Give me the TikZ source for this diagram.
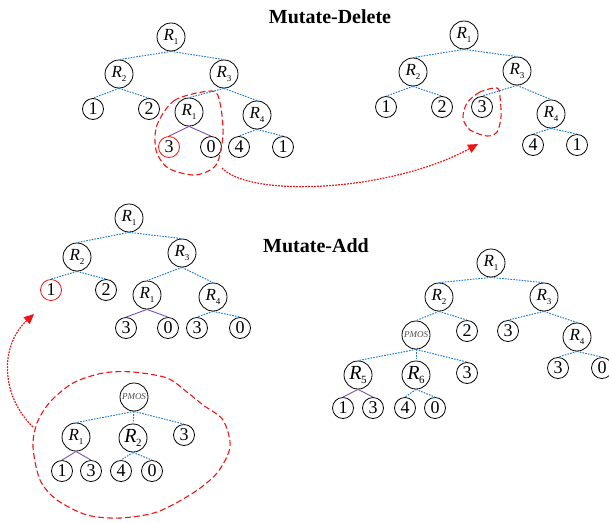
\documentclass[tikz,border=0pt]{standalone}
\usepackage{fontspec}
\setmainfont{Liberation Serif}
\usetikzlibrary{arrows.meta}
\definecolor{edgeblue}{RGB}{35,125,205}
\definecolor{edgepurple}{RGB}{125,80,180}
\definecolor{markred}{RGB}{240,20,20}
% R with an upright subscript index
\newcommand\Rsub[1]{\textit{R}\kern-0.3pt\raisebox{-3.5pt}{\fontsize{9}{9}\selectfont #1}}
\newcommand\Rbig[1]{\textit{R}\kern-0.3pt\raisebox{-4pt}{\fontsize{11}{11}\selectfont #1}}
\begin{document}
\begin{tikzpicture}[x=1pt, y=-1pt,
  rnode/.style={circle, draw, line width=0.8pt, minimum size=28pt, inner sep=0pt,
                font=\fontsize{17}{17}\selectfont},
  rbig/.style={rnode, font=\fontsize{20}{20}\selectfont},
  leaf/.style={circle, draw, line width=0.8pt, minimum size=21pt, inner sep=0pt,
               font=\fontsize{18}{18}\selectfont},
  redleaf/.style={leaf, draw=markred},
  pmos/.style={rnode, text=black!70, font=\fontsize{9}{9}\selectfont\itshape},
  bl/.style={edgeblue, line width=1pt, dash pattern=on 1.6pt off 1.2pt},
  pu/.style={edgepurple, line width=0.9pt},
  blob/.style={markred, line width=1.1pt, dash pattern=on 6pt off 3pt},
  move/.style={markred, line width=1.2pt, dash pattern=on 1.8pt off 1.2pt,
               -{Triangle[length=10pt,width=9pt]}},
  title/.style={font=\fontsize{20}{20}\selectfont\bfseries}]
\useasboundingbox (0,0) rectangle (609,522);

% titles
\node[title] (t1) at (330,17) {Mutate-Delete};
\node[title] (t2) at (316,246) {Mutate-Add};

% ---- tree before deletion ----
\node[rnode] (a1) at (171,37) {\Rsub{1}};
\node[rnode] (a2) at (119,74) {\Rsub{2}};
\node[rnode] (a3) at (224,74) {\Rsub{3}};
\node[leaf] (a4) at (93,109) {1};
\node[leaf] (a5) at (149,109) {2};
\node[rnode] (a6) at (189,112) {\Rsub{1}};
\node[rnode] (a7) at (257,115) {\Rsub{4}};
\node[redleaf] (a8) at (169,147) {3};
\node[leaf] (a9) at (211,147) {0};
\node[leaf] (a10) at (239,147) {4};
\node[leaf] (a11) at (283,147) {1};
\foreach \p/\c in {a1/a2,a1/a3,a2/a4,a2/a5,a3/a6,a3/a7,a7/a10,a7/a11}
  \draw[bl] (\p.south) -- (\c.north);
\foreach \c in {a8,a9} \draw[pu] (a6.south) -- (\c.north);

% ---- tree after deletion ----
\node[rnode] (b1) at (464,35) {\Rsub{1}};
\node[rnode] (b2) at (413,72) {\Rsub{2}};
\node[rnode] (b3) at (517,71) {\Rsub{3}};
\node[leaf] (b4) at (386,107) {1};
\node[leaf] (b5) at (442,107) {2};
\node[leaf] (b6) at (482,107) {3};
\node[rnode] (b7) at (551,114) {\Rsub{4}};
\node[leaf] (b8) at (533,145) {4};
\node[leaf] (b9) at (577,145) {1};
\foreach \p/\c in {b1/b2,b1/b3,b2/b4,b2/b5,b3/b6,b3/b7,b7/b8,b7/b9}
  \draw[bl] (\p.south) -- (\c.north);

% deleted subtree and its replacement
\draw[blob] plot[smooth cycle] coordinates
  {(212,91) (175,100) (157,125) (156,150) (168,168) (195,175) (216,165) (223,135) (220,103)};
\draw[blob] plot[smooth cycle] coordinates
  {(497,88) (480,92) (467,103) (463,118) (470,130) (487,136) (497,132) (501,117) (500,97)};
\coordinate (m1s) at (222,168);
\coordinate (m1e) at (478,144);
\draw[move] (m1s) .. controls (250,198) and (390,192) .. (m1e);

% ---- tree before insertion ----
\node[rnode] (c1) at (129,218) {\Rsub{1}};
\node[rnode] (c2) at (77,257) {\Rsub{2}};
\node[rnode] (c3) at (182,253) {\Rsub{3}};
\node[redleaf] (c4) at (51,290) {1};
\node[leaf] (c5) at (106,290) {2};
\node[rnode] (c6) at (147,295) {\Rsub{1}};
\node[rnode] (c7) at (213,297) {\Rsub{4}};
\node[leaf] (c8) at (126,328) {3};
\node[leaf] (c9) at (168,328) {0};
\node[leaf] (c10) at (197,328) {3};
\node[leaf] (c11) at (240,328) {0};
\foreach \p/\c in {c1/c2,c1/c3,c2/c4,c2/c5,c3/c6,c3/c7,c7/c10,c7/c11}
  \draw[bl] (\p.south) -- (\c.north);
\foreach \c in {c8,c9} \draw[pu] (c6.south) -- (\c.north);

% ---- inserted subtree ----
\node[pmos] (d1) at (134,397) {PMOS};
\node[rnode] (d2) at (76,437) {\Rsub{1}};
\node[rbig] (d3) at (133,438) {\Rbig{2}};
\node[leaf] (d4) at (184,435) {3};
\node[leaf] (d5) at (62,471) {1};
\node[leaf] (d6) at (91,471) {3};
\node[leaf] (d7) at (121,471) {4};
\node[leaf] (d8) at (152,471) {0};
\foreach \p/\c in {d1/d2,d1/d3,d1/d4,d3/d7,d3/d8}
  \draw[bl] (\p.south) -- (\c.north);
\foreach \c in {d5,d6} \draw[pu] (d2.south) -- (\c.north);
\draw[blob] plot[smooth cycle] coordinates
  {(133,372) (103,373) (73,383) (50,402) (37,423) (33,447) (40,480) (57,500)
   (87,515) (120,518) (157,512) (193,493) (217,473) (230,447) (223,420)
   (203,405) (187,392) (167,378)};
\coordinate (m2s) at (33,427);
\coordinate (m2e) at (34,314);
\draw[move] (m2s) .. controls (0,395) and (0,345) .. (m2e);

% ---- tree after insertion ----
\node[rnode] (e1) at (491,263) {\Rsub{1}};
\node[rnode] (e2) at (439,297) {\Rsub{2}};
\node[rnode] (e3) at (544,297) {\Rsub{3}};
\node[pmos] (e4) at (416,335) {PMOS};
\node[leaf] (e5) at (467,331) {2};
\node[leaf] (e6) at (508,331) {3};
\node[rnode] (e7) at (577,337) {\Rsub{4}};
\node[rbig] (e8) at (358,375) {\Rbig{5}};
\node[rbig] (e9) at (416,375) {\Rbig{6}};
\node[leaf] (e10) at (467,373) {3};
\node[leaf] (e11) at (558,368) {3};
\node[leaf] (e12) at (602,368) {0};
\node[leaf] (e13) at (343,408) {1};
\node[leaf] (e14) at (373,408) {3};
\node[leaf] (e15) at (405,408) {4};
\node[leaf] (e16) at (435,408) {0};
\foreach \p/\c in {e1/e2,e1/e3,e2/e4,e2/e5,e3/e6,e3/e7,e7/e11,e7/e12,
                   e4/e8,e4/e9,e4/e10,e9/e15,e9/e16}
  \draw[bl] (\p.south) -- (\c.north);
\foreach \c in {e13,e14} \draw[pu] (e8.south) -- (\c.north);
\end{tikzpicture}
\end{document}
